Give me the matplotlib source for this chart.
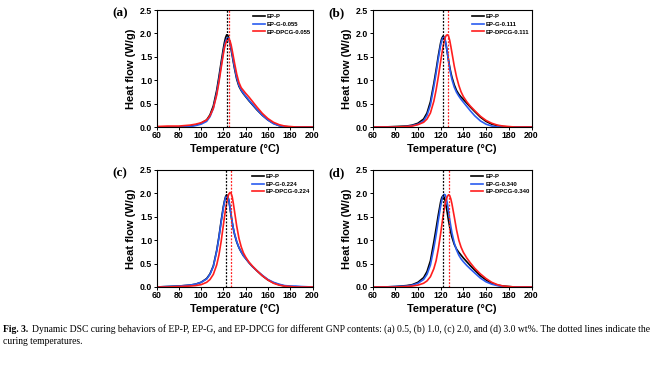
import matplotlib
matplotlib.use("Agg")
import matplotlib.pyplot as plt

# ---------------- data ----------------
temperature = [60, 70, 80, 90, 95, 100, 105, 108, 111, 114, 116, 118, 120, 121, 122,
               123, 124, 125, 126, 127, 128, 129, 130, 132, 134, 136, 138, 140, 143,
               146, 150, 155, 160, 165, 170, 175, 180, 185, 190, 200]

# (a) 0.5 wt%
a_ep_p = [0, 0, 0, 0.02, 0.04, 0.08, 0.15, 0.26, 0.45, 0.78, 1.07, 1.38, 1.68, 1.81, 1.91,
          1.97, 1.96, 1.89, 1.78, 1.65, 1.52, 1.38, 1.25, 1.02, 0.87, 0.78, 0.71, 0.65, 0.56,
          0.48, 0.37, 0.25, 0.15, 0.08, 0.03, 0.01, 0, 0, 0, 0]
a_ep_g = [0, 0, 0, 0.01, 0.03, 0.06, 0.12, 0.22, 0.40, 0.72, 1.00, 1.31, 1.60, 1.73, 1.83,
          1.89, 1.91, 1.88, 1.80, 1.68, 1.55, 1.41, 1.28, 1.05, 0.89, 0.79, 0.72, 0.66, 0.57,
          0.49, 0.38, 0.25, 0.15, 0.07, 0.03, 0.01, 0, 0, 0, 0]
a_ep_dpcg = [0.01, 0.02, 0.02, 0.04, 0.06, 0.09, 0.15, 0.24, 0.40, 0.68, 0.95, 1.26, 1.56, 1.69, 1.78,
             1.84, 1.88, 1.88, 1.84, 1.75, 1.63, 1.50, 1.37, 1.13, 0.95, 0.84, 0.78, 0.72, 0.64,
             0.55, 0.43, 0.29, 0.18, 0.10, 0.05, 0.02, 0.01, 0, 0, 0]

# (b) 1.0 wt%
b_ep_p = [0, 0, 0.01, 0.02, 0.04, 0.08, 0.17, 0.30, 0.54, 0.93, 1.22, 1.53, 1.80, 1.89, 1.94,
          1.92, 1.85, 1.72, 1.57, 1.42, 1.28, 1.16, 1.06, 0.90, 0.78, 0.70, 0.64, 0.59, 0.51,
          0.43, 0.33, 0.21, 0.12, 0.06, 0.03, 0.01, 0, 0, 0, 0]
b_ep_g = [0, 0, 0, 0.01, 0.03, 0.06, 0.13, 0.25, 0.47, 0.86, 1.15, 1.47, 1.75, 1.85, 1.91,
          1.92, 1.86, 1.73, 1.57, 1.40, 1.25, 1.12, 1.01, 0.85, 0.74, 0.66, 0.59, 0.53, 0.44,
          0.35, 0.24, 0.13, 0.06, 0.02, 0, 0, 0, 0, 0, 0]
b_ep_dpcg = [0, 0, 0, 0.01, 0.02, 0.05, 0.10, 0.17, 0.30, 0.55, 0.79, 1.08, 1.40, 1.56, 1.70,
             1.82, 1.91, 1.96, 1.97, 1.94, 1.85, 1.72, 1.58, 1.30, 1.07, 0.89, 0.75, 0.65, 0.54,
             0.45, 0.35, 0.23, 0.14, 0.08, 0.04, 0.02, 0.01, 0, 0, 0]

# (c) 2.0 wt%
c_ep_p = [0, 0.01, 0.02, 0.04, 0.06, 0.10, 0.18, 0.28, 0.45, 0.78, 1.07, 1.41, 1.72, 1.84, 1.93,
          1.97, 1.94, 1.84, 1.68, 1.52, 1.37, 1.24, 1.13, 0.96, 0.84, 0.75, 0.67, 0.61, 0.52,
          0.44, 0.35, 0.24, 0.15, 0.09, 0.05, 0.02, 0.01, 0, 0, 0]
c_ep_g = [0, 0.01, 0.02, 0.04, 0.06, 0.10, 0.17, 0.27, 0.44, 0.76, 1.05, 1.38, 1.69, 1.82, 1.91,
          1.95, 1.93, 1.84, 1.69, 1.53, 1.38, 1.25, 1.14, 0.97, 0.84, 0.75, 0.67, 0.61, 0.52,
          0.44, 0.35, 0.25, 0.16, 0.10, 0.06, 0.03, 0.02, 0.02, 0.01, 0]
c_ep_dpcg = [0, 0, 0.01, 0.02, 0.03, 0.05, 0.10, 0.16, 0.27, 0.47, 0.68, 0.97, 1.32, 1.50, 1.66,
             1.80, 1.92, 1.99, 2.02, 2.00, 1.92, 1.78, 1.62, 1.30, 1.04, 0.86, 0.73, 0.64, 0.53,
             0.45, 0.35, 0.24, 0.15, 0.08, 0.04, 0.02, 0.01, 0, 0, 0]

# (d) 3.0 wt%
d_ep_p = [0, 0, 0.01, 0.03, 0.05, 0.10, 0.20, 0.33, 0.56, 0.96, 1.25, 1.55, 1.82, 1.91, 1.95,
          1.92, 1.84, 1.71, 1.56, 1.41, 1.28, 1.16, 1.06, 0.91, 0.81, 0.74, 0.68, 0.62, 0.54,
          0.46, 0.36, 0.24, 0.15, 0.08, 0.04, 0.02, 0.01, 0, 0, 0]
d_ep_g = [0, 0, 0.01, 0.02, 0.04, 0.08, 0.16, 0.27, 0.47, 0.83, 1.11, 1.43, 1.73, 1.85, 1.94,
          1.98, 1.97, 1.90, 1.77, 1.61, 1.44, 1.29, 1.15, 0.94, 0.79, 0.68, 0.60, 0.54, 0.46,
          0.39, 0.30, 0.19, 0.11, 0.06, 0.03, 0.01, 0, 0, 0, 0]
d_ep_dpcg = [0, 0, 0, 0.01, 0.02, 0.04, 0.08, 0.13, 0.22, 0.39, 0.56, 0.82, 1.14, 1.32, 1.49,
             1.65, 1.78, 1.88, 1.94, 1.97, 1.95, 1.88, 1.77, 1.50, 1.22, 1.00, 0.85, 0.74, 0.62,
             0.52, 0.40, 0.28, 0.18, 0.10, 0.05, 0.02, 0.01, 0, 0, 0]

panel_letters = ["(a)", "(b)", "(c)", "(d)"]
gnp_labels = ["0.055", "0.111", "0.224", "0.340"]
curing_ep_p = [123.0, 122.2, 122.8, 122.2]
curing_ep_dpcg = [125.3, 126.5, 126.5, 127.3]
series = [
    (a_ep_p, a_ep_g, a_ep_dpcg),
    (b_ep_p, b_ep_g, b_ep_dpcg),
    (c_ep_p, c_ep_g, c_ep_dpcg),
    (d_ep_p, d_ep_g, d_ep_dpcg),
]
x_ticks = [60, 80, 100, 120, 140, 160, 180, 200]
y_ticks = [0.0, 0.5, 1.0, 1.5, 2.0, 2.5]

# ---------------- figure ----------------
W, H = 664, 366
fig = plt.figure(figsize=(W / 100, H / 100), dpi=100)
plt.rcParams['font.family'] = ['Liberation Sans', 'DejaVu Sans']

BLACK = "#000000"
BLUE = "#2a5cf0"
RED = "#ff1e1e"

boxes = [  # left, right, top, bottom (pixels)
    (156.5, 312.5, 10, 127),
    (372.5, 531.5, 10, 127),
    (156.5, 312.5, 170, 287),
    (372.5, 531.5, 170, 287),
]

for i, (l, r, t, b) in enumerate(boxes):
    ax = fig.add_axes([l / W, 1 - b / H, (r - l) / W, (b - t) / H])
    p, g, d = series[i]
    ax.plot(temperature, p, color=BLACK, lw=1.2, label="EP-P")
    ax.plot(temperature, g, color=BLUE, lw=1.2, label="EP-G-" + gnp_labels[i])
    ax.plot(temperature, d, color=RED, lw=1.2, label="EP-DPCG-" + gnp_labels[i])
    ax.axvline(curing_ep_p[i], color=BLACK, lw=0.9, ls=(0, (1.5, 1.2)))
    ax.axvline(curing_ep_dpcg[i], color=RED, lw=0.9, ls=(0, (1.5, 1.2)))
    ax.set_xlim(60, 200)
    ax.set_ylim(0, 2.5)
    ax.set_xticks(x_ticks)
    ax.set_yticks(y_ticks)
    ax.set_yticklabels([f"{v:.1f}" for v in y_ticks])
    ax.tick_params(axis='both', direction='out', length=2, width=0.7, pad=1,
                   labelsize=6.3)
    for lab in ax.get_xticklabels() + ax.get_yticklabels():
        lab.set_fontweight('bold')
    for s in ax.spines.values():
        s.set_linewidth(0.8)
    ax.set_xlabel("Temperature (°C)", fontsize=8, fontweight='bold', labelpad=3)
    ax.set_ylabel("Heat flow (W/g)", fontsize=8, fontweight='bold', labelpad=3)
    leg = ax.legend(loc='upper right', bbox_to_anchor=(1.01, 1.0), frameon=False,
                    fontsize=4.3, handlelength=2.0, handletextpad=0.3,
                    labelspacing=0.45, borderaxespad=0.2)
    for tx in leg.get_texts():
        tx.set_fontweight('bold')
    fig.text((l - 44) / W, 1 - (t + 3) / H, panel_letters[i], fontsize=9.5,
             fontweight='bold', family=['Liberation Serif', 'DejaVu Serif'],
             ha='left', va='center')

cap_fam = ['Liberation Serif', 'DejaVu Serif']
cap_size = 6.9
t1 = fig.text(3 / W, 1 - 329 / H, "Fig. 3.", fontsize=cap_size, fontweight='bold',
              family=cap_fam, ha='left', va='center')
fig.canvas.draw()
ext = t1.get_window_extent()
fig.text((ext.x1 + 4) / W, 1 - 329 / H,
         "Dynamic DSC curing behaviors of EP-P, EP-G, and EP-DPCG for different GNP contents: "
         "(a) 0.5, (b) 1.0, (c) 2.0, and (d) 3.0 wt%. The dotted lines indicate the",
         fontsize=cap_size, family=cap_fam, ha='left', va='center')
fig.text(3 / W, 1 - 341 / H, "curing temperatures.", fontsize=cap_size, family=cap_fam,
         ha='left', va='center')

fig.savefig("out.png", dpi=100)
